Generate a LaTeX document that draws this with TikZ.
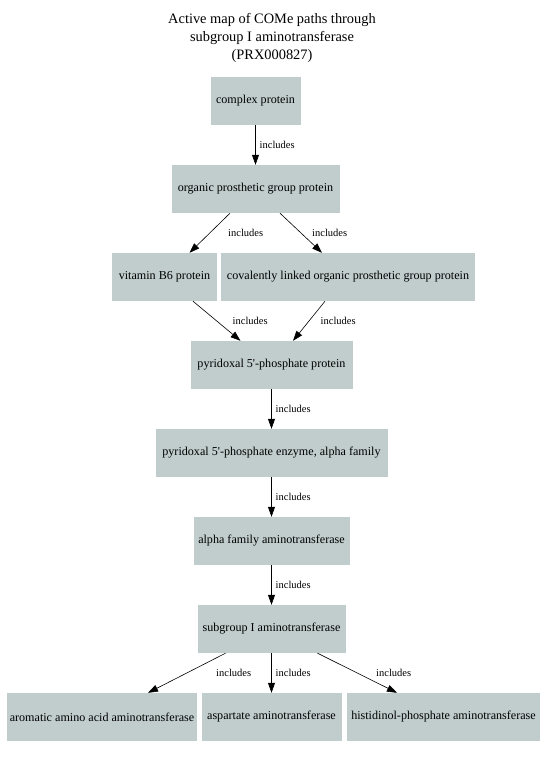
\documentclass[tikz,border=0pt]{standalone}
\usepackage{fontspec}
\setmainfont{Liberation Serif}
\usetikzlibrary{arrows.meta}
\definecolor{boxgrey}{HTML}{C1CDCD}
\tikzset{
  termbox/.style={fill=boxgrey, draw=none, minimum height=48pt, inner sep=0pt, font=\fontsize{12.1}{14}\selectfont},
  incl/.style={-{Triangle[length=10pt,width=7pt]}, line width=0.6pt},
  incllabel/.style={anchor=west, inner sep=0pt, font=\fontsize{10.5}{12}\selectfont}
}
\begin{document}
\begin{tikzpicture}[x=1pt,y=1pt,yscale=-1,xscale=1]
\useasboundingbox (0,0) rectangle (545,758);

% Title
\node (title) at (272,38) [align=center, font=\fontsize{14.4}{18}\selectfont] {Active map of COMe paths through\\subgroup I aminotransferase\\(PRX000827)};

%Shape: Rectangle
\node (cp) at (255.5,101) [termbox, minimum width=90pt] {complex protein};
\node (opg) at (255.5,189) [termbox, minimum width=168pt] {organic prosthetic group protein};
\node (vit) at (164.5,277) [termbox, minimum width=105pt] {vitamin B6 protein};
\node (cov) at (348,277) [termbox, minimum width=254pt] {covalently linked organic prosthetic group protein};
\node (pyr) at (271.5,365) [termbox, minimum width=162pt] {pyridoxal 5\textquotesingle-phosphate protein};
\node (enz) at (271.5,453) [termbox, minimum width=232pt] {pyridoxal 5\textquotesingle-phosphate enzyme, alpha family};
\node (alp) at (271.5,541) [termbox, minimum width=156pt] {alpha family aminotransferase};
\node (sub) at (271.5,629) [termbox, minimum width=148pt] {subgroup I aminotransferase};
\node (arom) at (102,717) [termbox, minimum width=190pt] {aromatic amino acid aminotransferase};
\node (asp) at (271.5,717) [termbox, minimum width=140pt] {aspartate aminotransferase};
\node (his) at (443.5,717) [termbox, minimum width=193pt] {histidinol-phosphate aminotransferase};

%Straight Lines
\draw [incl] (cp.south) -- (opg.north);
\draw [incl] ([xshift=-25.5pt]opg.south) -- ([xshift=25pt]vit.north);
\draw [incl] ([xshift=24.5pt]opg.south) -- ([xshift=-26pt]cov.north);
\draw [incl] ([xshift=28.5pt]vit.south) -- ([xshift=-31pt]pyr.north);
\draw [incl] ([xshift=-23pt]cov.south) -- ([xshift=21.5pt]pyr.north);
\draw [incl] (pyr.south) -- (enz.north);
\draw [incl] (enz.south) -- (alp.north);
\draw [incl] (alp.south) -- (sub.north);
\draw [incl] ([xshift=-46pt]sub.south) -- ([xshift=46pt]arom.north);
\draw [incl] (sub.south) -- (asp.north);
\draw [incl] ([xshift=46pt]sub.south) -- ([xshift=-46.5pt]his.north);

% Text Node
\node (l1) at (259.5,145) [incllabel] {includes};
\node (l2) at (228,233) [incllabel] {includes};
\node (l3) at (312,233) [incllabel] {includes};
\node (l4) at (232.5,321) [incllabel] {includes};
\node (l5) at (320.5,321) [incllabel] {includes};
\node (l6) at (275.5,409) [incllabel] {includes};
\node (l7) at (275.5,497) [incllabel] {includes};
\node (l8) at (275.5,585) [incllabel] {includes};
\node (l9) at (216,673) [incllabel] {includes};
\node (l10) at (275.5,673) [incllabel] {includes};
\node (l11) at (376,673) [incllabel] {includes};

\end{tikzpicture}
\end{document}
